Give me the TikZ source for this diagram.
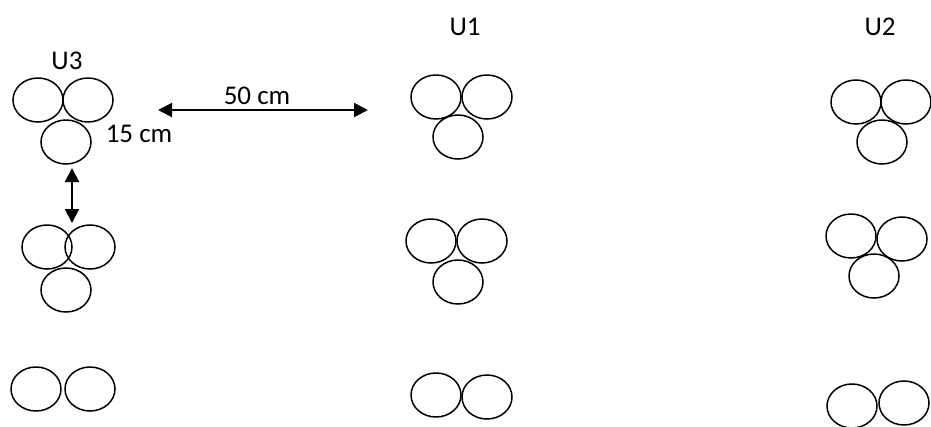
\documentclass[tikz,border=0pt]{standalone}
\usepackage{fontspec}
\setmainfont{Carlito}
\usetikzlibrary{shapes.geometric,arrows.meta}
\tikzset{
  tuber/.style={draw, ellipse, line width=1.5pt, minimum width=50pt, minimum height=44pt, inner sep=0pt},
  lbl/.style={font=\fontsize{27}{32}\selectfont, inner sep=0pt},
  dim/.style={line width=2pt, {Triangle[length=14pt,width=14pt]}-{Triangle[length=14pt,width=14pt]}}
}
\begin{document}
\begin{tikzpicture}[x=1pt,y=-1pt]
\useasboundingbox (0,0) rectangle (931,426);
% column U3
\node[lbl] (u3) at (67,61) {U3};
\node[tuber] (a1) at (38,100) {};
\node[tuber] (a2) at (88,100) {};
\node[tuber] (a3) at (66,142) {};
\node[tuber] (a4) at (47,247) {};
\node[tuber] (a5) at (90,247) {};
\node[tuber] (a6) at (66,290) {};
\node[tuber] (a7) at (36,389) {};
\node[tuber] (a8) at (90,389) {};
% column U1
\node[lbl] (u1) at (465,27) {U1};
\node[tuber] (b1) at (436,97) {};
\node[tuber] (b2) at (487,97) {};
\node[tuber] (b3) at (458,137) {};
\node[tuber] (b4) at (431,241) {};
\node[tuber] (b5) at (482,241) {};
\node[tuber] (b6) at (458,282) {};
\node[tuber] (b7) at (436,395) {};
\node[tuber] (b8) at (487,397) {};
% column U2
\node[lbl] (u2) at (880,27) {U2};
\node[tuber] (c1) at (856,102) {};
\node[tuber] (c2) at (906,102) {};
\node[tuber] (c3) at (882,142) {};
\node[tuber] (c4) at (851,236) {};
\node[tuber] (c5) at (902,239) {};
\node[tuber] (c6) at (874,276) {};
\node[tuber] (c7) at (852,406) {};
\node[tuber] (c8) at (904,403) {};
% spacing dimensions
\coordinate (h1) at (158,110);
\coordinate (h2) at (368,110);
\draw[dim] (h1) -- (h2);
\node[lbl] (d50) at (257,96) {50 cm};
\coordinate (v1) at (72,168);
\coordinate (v2) at (72,223);
\draw[dim] (v1) -- (v2);
\node[lbl] (d15) at (139,134) {15 cm};
\end{tikzpicture}
\end{document}
